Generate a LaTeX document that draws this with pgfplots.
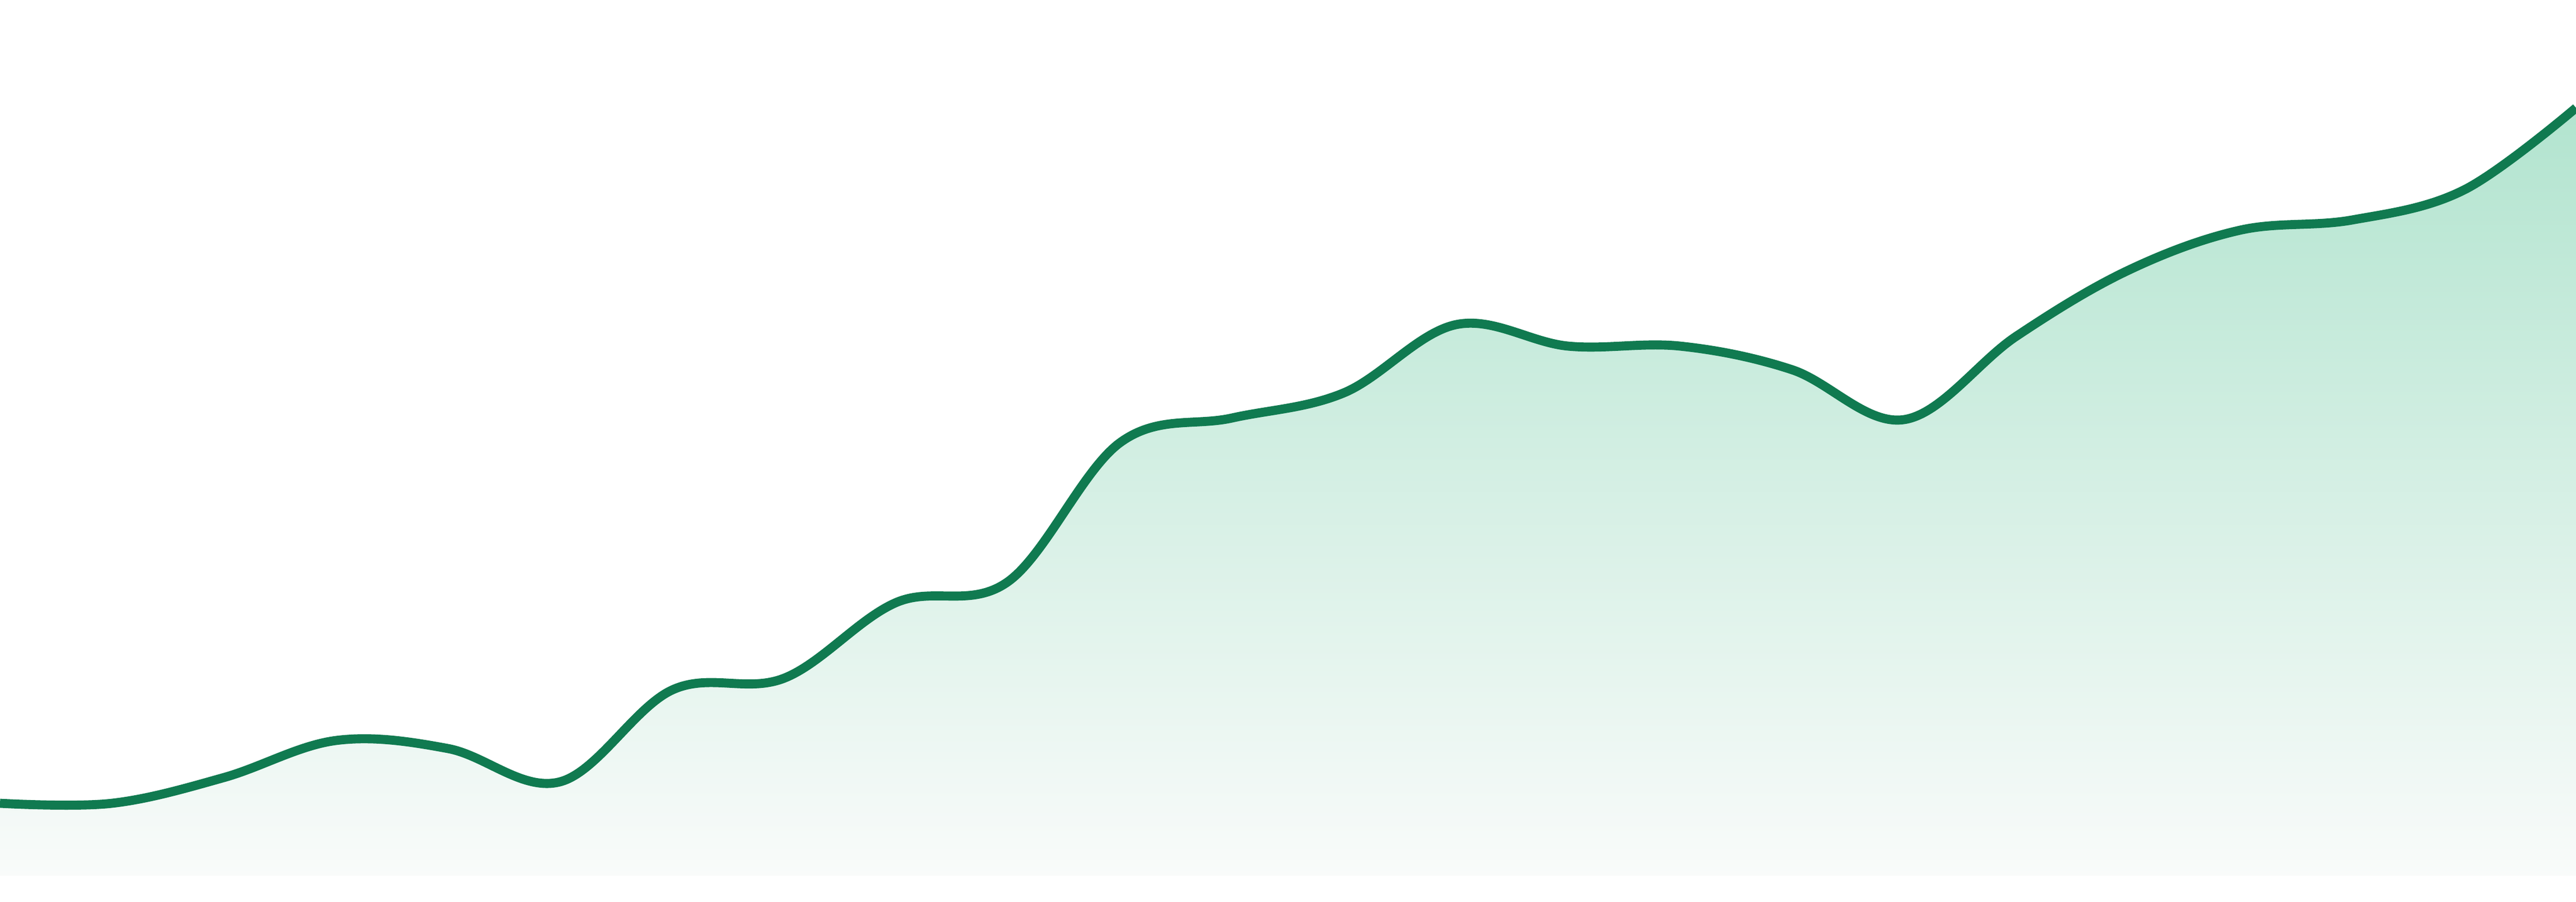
\documentclass[border=0pt]{standalone}
\usepackage{pgfplots}
\pgfplotsset{compat=1.18}
\definecolor{lineGreen}{RGB}{16,122,80}
\definecolor{fillTop}{RGB}{178,228,207}
\definecolor{fillBottom}{RGB}{249,251,250}
\begin{document}
\begin{tikzpicture}
\begin{axis}[
  width=16cm, height=5.6cm,
  scale only axis,
  hide axis,
  xmin=0, xmax=23,
  ymin=-48, ymax=1632,
  clip=true,
]
% area under the curve, fading downwards
\addplot[draw=none, smooth, tension=0.6, top color=fillTop, bottom color=fillBottom]
coordinates {
(0,135) (1,135) (2,183) (3,252) (4,237) (5,175) (6,346) (7,368)
(8,509) (9,548) (10,807) (11,853) (12,900) (13,1027) (14,987) (15,987)
(16,943) (17,850) (18,1005) (19,1128) (20,1203) (21,1222) (22,1278) (23,1431)
} \closedcycle;
% the line itself
\addplot[lineGreen, line width=1.6pt, smooth, tension=0.6]
coordinates {
(0,135) (1,135) (2,183) (3,252) (4,237) (5,175) (6,346) (7,368)
(8,509) (9,548) (10,807) (11,853) (12,900) (13,1027) (14,987) (15,987)
(16,943) (17,850) (18,1005) (19,1128) (20,1203) (21,1222) (22,1278) (23,1431)
};
\end{axis}
\pgfresetboundingbox
\path (current axis.south west) rectangle (current axis.north east);
\end{tikzpicture}
\end{document}
